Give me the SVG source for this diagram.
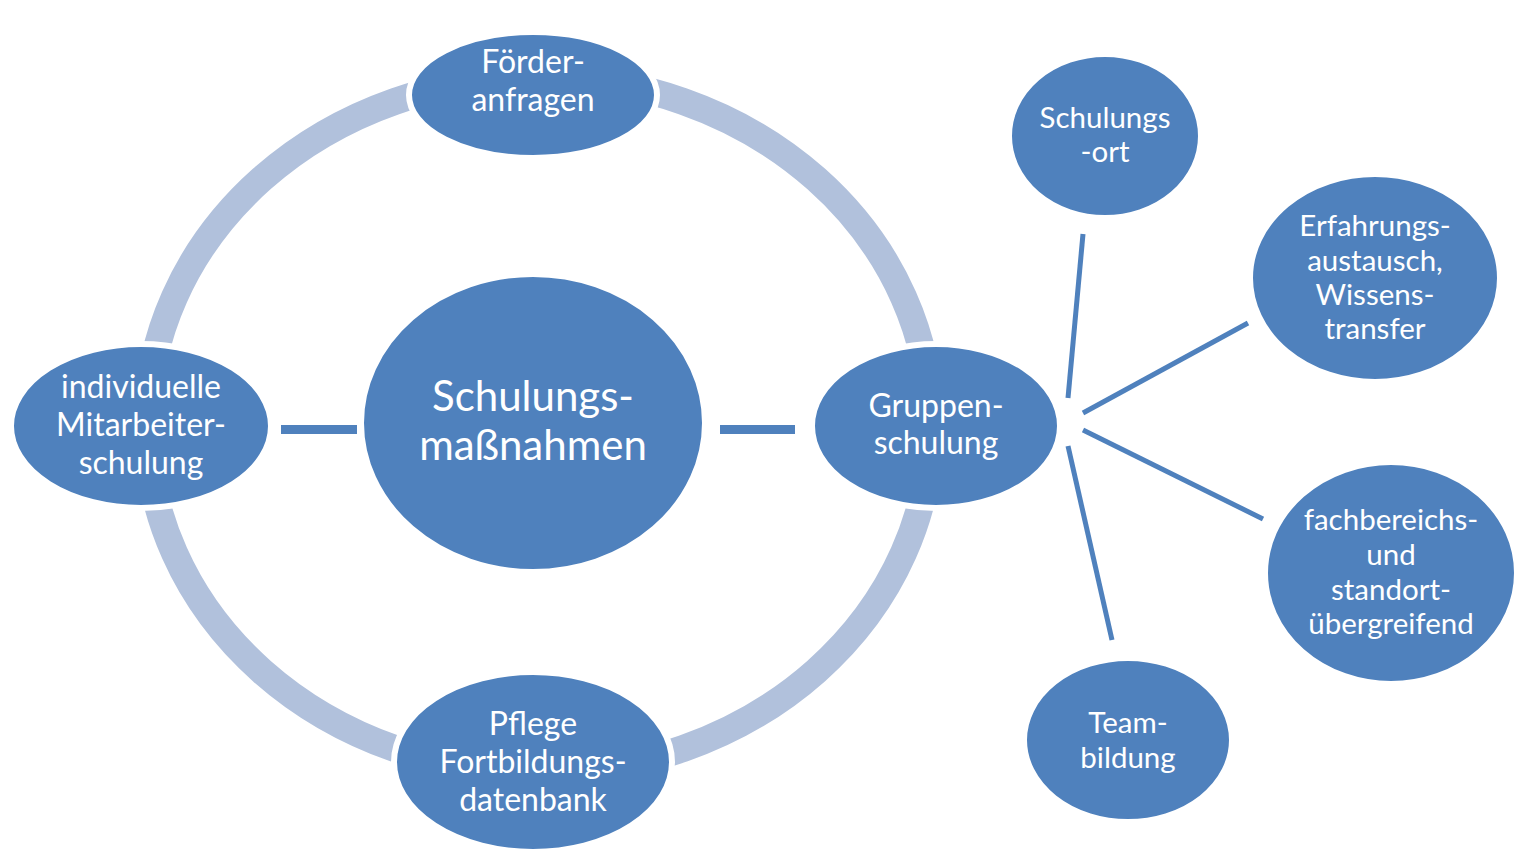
<svg xmlns="http://www.w3.org/2000/svg" width="1514" height="850" viewBox="0 0 1514 850">
<style>
.node{fill:#4F81BD;stroke:#FFFFFF;stroke-width:6}
.t{font-family:Lato,"Open Sans","Liberation Sans",sans-serif;fill:#FFFFFF;text-anchor:middle}
.m{font-size:32px}
.s{font-size:29.5px}
.c{font-size:42px}
.spoke{stroke:#4F81BD;stroke-width:5;fill:none}
.bar{stroke:#4F81BD;stroke-width:9;fill:none}
</style>
<rect width="1514" height="850" fill="#FFFFFF"/>
<g id="ring">
<ellipse cx="539" cy="425" rx="392" ry="348" fill="none" stroke="#B1C1DC" stroke-width="27"/>
</g>
<g id="connectors">
<line class="bar" x1="281" y1="429.5" x2="357" y2="429.5"/>
<line class="bar" x1="720" y1="429.5" x2="795" y2="429.5"/>
<line class="spoke" x1="1083" y1="234" x2="1068" y2="398"/>
<line class="spoke" x1="1248" y1="323" x2="1083" y2="413"/>
<line class="spoke" x1="1083" y1="430" x2="1263" y2="519"/>
<line class="spoke" x1="1068" y1="446" x2="1112" y2="640"/>
</g>
<g id="foerder">
<ellipse class="node" cx="533" cy="95" rx="124" ry="63"/>
<text class="t m" x="533" y="73">Förder-</text>
<text class="t m" x="533" y="111">anfragen</text>
</g>
<g id="zentrum">
<ellipse class="node" cx="533" cy="423" rx="172" ry="149"/>
<text class="t c" x="533" y="411">Schulungs-</text>
<text class="t c" x="533" y="460">maßnahmen</text>
</g>
<g id="individuell">
<ellipse class="node" cx="141" cy="426" rx="130" ry="82"/>
<text class="t m" x="141" y="398">individuelle</text>
<text class="t m" x="141" y="436">Mitarbeiter-</text>
<text class="t m" x="141" y="474">schulung</text>
</g>
<g id="gruppen">
<ellipse class="node" cx="936" cy="426" rx="124" ry="82"/>
<text class="t m" x="936" y="417">Gruppen-</text>
<text class="t m" x="936" y="454">schulung</text>
</g>
<g id="pflege">
<ellipse class="node" cx="533" cy="762" rx="139" ry="90"/>
<text class="t m" x="533" y="735">Pflege</text>
<text class="t m" x="533" y="773">Fortbildungs-</text>
<text class="t m" x="533" y="811">datenbank</text>
</g>
<g id="schulungsort">
<ellipse class="node" cx="1105" cy="136" rx="96" ry="82"/>
<text class="t s" x="1105" y="128">Schulungs</text>
<text class="t s" x="1105" y="162">-ort</text>
</g>
<g id="erfahrung">
<ellipse class="node" cx="1375" cy="278" rx="125" ry="104"/>
<text class="t s" x="1375" y="236">Erfahrungs-</text>
<text class="t s" x="1375" y="271">austausch,</text>
<text class="t s" x="1375" y="305">Wissens-</text>
<text class="t s" x="1375" y="339">transfer</text>
</g>
<g id="fachbereich">
<ellipse class="node" cx="1391" cy="573" rx="126" ry="111"/>
<text class="t s" x="1391" y="530">fachbereichs-</text>
<text class="t s" x="1391" y="565">und</text>
<text class="t s" x="1391" y="600">standort-</text>
<text class="t s" x="1391" y="634">übergreifend</text>
</g>
<g id="team">
<ellipse class="node" cx="1128" cy="740" rx="104" ry="82"/>
<text class="t s" x="1128" y="733">Team-</text>
<text class="t s" x="1128" y="768">bildung</text>
</g>
</svg>
